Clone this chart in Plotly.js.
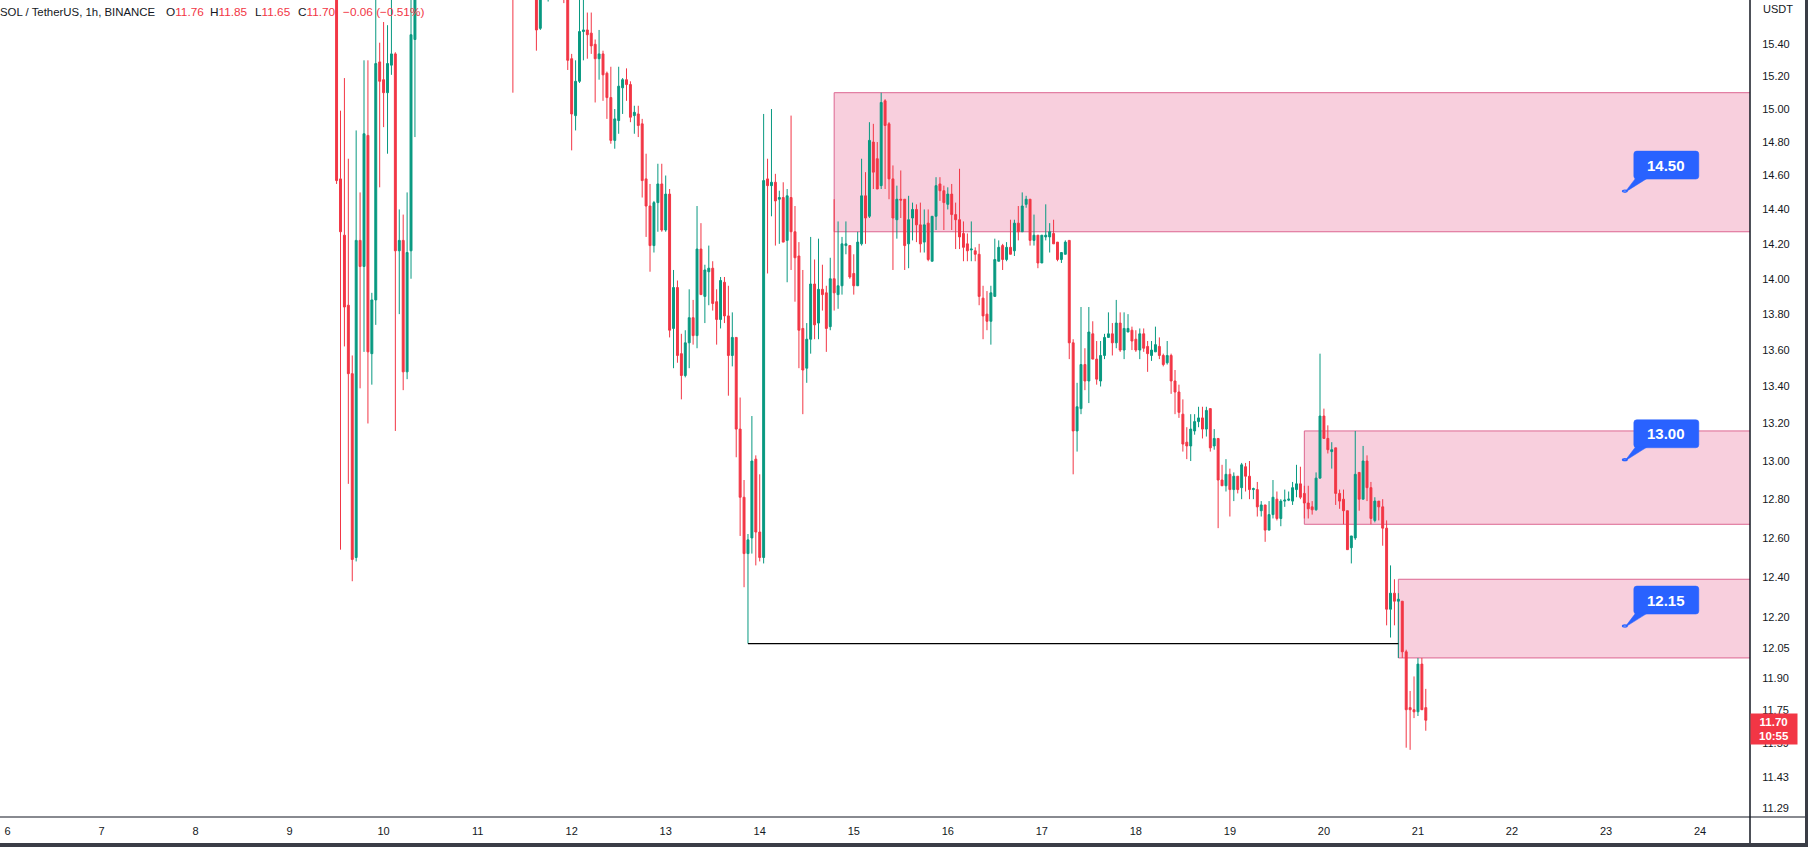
<!DOCTYPE html>
<html>
<head>
<meta charset="utf-8">
<script src="https://cdn.plot.ly/plotly-3.0.1.min.js"></script>
<style>
html,body{margin:0;padding:0;background:#fff;}
#chart{width:1808px;height:847px;}
</style>
</head>
<body>
<div id="chart"></div>
<script>
// ---- data: SOL/USDT 1h candles, first candle = 2022-11-09 12:00 (hour 60 after Nov 7 00:00)
const N = null;
const openP = [
16.10,14.58,14.25,13.85,13.47,12.50,14.22,14.07,14.84,13.58,
13.88,15.29,15.18,15.10,15.27,15.34,14.16,14.22,13.48,14.16,
15.43,
N,N,N,N,N,N,N,N,N,N,N,N,N,N,N,N,N,N,N,N,N,N,N,N,
16.05,
N,N,N,N,N,
15.85,15.50,N,15.70,N,N,N,
15.90,15.75,
15.31,14.96,15.17,15.48,15.49,15.47,15.40,15.31,15.34,15.22,
15.07,14.81,14.93,15.13,15.18,15.15,14.96,14.97,14.91,14.58,
14.42,14.19,14.44,14.55,14.28,14.49,13.72,13.95,13.58,13.46,
13.64,13.78,13.68,14.17,13.90,14.04,14.06,13.87,13.77,13.98,
13.79,13.57,13.67,13.17,12.81,12.52,12.60,13.01,12.63,12.50,
14.58,14.54,14.56,14.46,14.47,14.22,14.47,14.27,14.13,13.72,
13.50,13.66,13.97,13.75,13.94,13.92,13.73,14.00,13.91,13.96,
14.19,14.19,14.03,13.96,14.20,14.48,14.36,14.80,14.70,14.54,
15.05,14.91,14.58,14.34,14.46,14.46,14.20,14.35,14.40,14.31,
14.21,14.32,14.10,14.36,14.55,14.51,14.43,14.49,14.37,14.34,
14.26,14.20,14.165,14.16,14.14,13.89,13.80,13.76,13.90,14.10,
14.19,14.11,14.18,14.16,14.32,14.27,14.43,14.46,14.22,14.25,
14.09,14.24,14.24,14.26,14.21,14.11,14.14,14.22,13.64,13.16,
13.28,13.52,13.43,13.69,13.55,13.43,13.57,13.67,13.69,13.64,
13.75,13.60,13.70,13.71,13.66,13.60,13.69,13.62,13.57,13.59,
13.62,13.57,13.53,13.57,13.43,13.37,13.25,13.10,13.08,13.16,
13.21,13.23,13.17,13.28,13.08,13.12,12.90,12.87,12.93,12.85,
12.92,12.86,12.97,12.92,12.85,12.85,12.74,12.77,12.64,12.72,
12.80,12.70,12.79,12.795,12.79,12.85,12.88,12.83,12.78,12.76,
12.745,12.91,13.24,13.12,13.05,13.07,12.83,12.80,12.74,12.55,
12.60,12.94,12.80,13.00,12.86,12.69,12.79,12.76,12.65,12.24,
12.32,12.28,12.28,12.03,11.76,11.75,11.74,11.97,11.76
];
const highP = [
16.30,14.99,15.19,14.70,13.57,14.87,14.50,15.30,15.30,13.92,
15.80,15.41,15.54,15.52,15.80,15.35,14.40,14.37,14.50,15.80,
16.00,
N,N,N,N,N,N,N,N,N,N,N,N,N,N,N,N,N,N,N,N,N,N,N,N,
16.20,
N,N,N,N,N,
15.95,15.90,N,15.85,N,N,N,
15.95,15.80,
15.34,15.30,15.72,15.72,15.60,15.60,15.43,15.49,15.36,15.23,
15.26,15.00,15.26,15.19,15.25,15.17,15.02,15.02,14.94,14.73,
14.55,14.45,14.67,14.67,14.60,14.52,14.05,13.99,13.69,13.71,
13.94,13.88,14.42,14.32,14.08,14.19,14.10,13.94,14.01,14.01,
13.96,13.81,13.67,13.34,12.90,12.62,13.24,13.03,12.93,14.97,
14.70,15.00,14.61,14.51,14.56,14.52,14.96,14.42,14.21,14.05,
13.75,14.24,14.11,14.23,14.08,13.96,14.12,14.46,14.33,14.24,
14.33,14.19,14.14,14.27,14.70,14.62,14.92,14.91,14.80,15.10,
15.06,14.92,14.66,14.54,14.63,14.46,14.48,14.44,14.43,14.44,
14.40,14.40,14.36,14.59,14.59,14.54,14.53,14.55,14.44,14.64,
14.33,14.26,14.33,14.18,14.20,13.96,13.93,13.96,14.23,14.22,
14.20,14.21,14.34,14.34,14.42,14.50,14.48,14.46,14.37,14.25,
14.25,14.43,14.32,14.34,14.21,14.15,14.22,14.22,13.66,13.42,
13.84,13.61,13.84,13.76,13.65,13.65,13.69,13.81,13.75,13.88,
13.81,13.81,13.80,13.73,13.71,13.72,13.72,13.65,13.65,13.73,
13.67,13.58,13.65,13.58,13.49,13.41,13.33,13.18,13.25,13.25,
13.29,13.29,13.29,13.28,13.17,13.12,12.98,13.01,12.96,12.94,
12.92,12.99,12.99,13.00,12.86,12.89,12.79,12.77,12.79,12.90,
12.84,12.80,12.85,12.84,12.89,12.98,12.97,12.87,12.87,12.79,
12.94,13.58,13.28,13.19,13.10,13.07,12.85,12.85,12.74,12.61,
13.16,12.94,13.08,13.03,12.89,12.81,12.79,12.80,12.69,12.46,
12.39,12.32,12.28,12.04,11.84,11.91,12.00,12.00,11.85
];
const lowP = [
14.55,12.54,13.62,12.88,12.38,12.48,13.39,13.59,13.20,13.41,
13.74,14.53,14.89,14.73,15.21,13.16,13.80,13.38,13.44,14.00,
14.83,
N,N,N,N,N,N,N,N,N,N,N,N,N,N,N,N,N,N,N,N,N,N,N,N,
15.10,
N,N,N,N,N,
15.36,15.49,N,15.67,N,N,N,
15.66,15.24,
14.75,14.87,15.16,15.30,15.31,15.34,15.04,15.18,15.05,14.94,
14.79,14.76,14.85,14.97,15.05,14.92,14.85,14.83,14.47,14.24,
14.04,14.15,14.27,14.27,14.27,13.67,13.50,13.53,13.33,13.45,
13.50,13.63,13.61,13.91,13.75,13.85,13.82,13.63,13.72,13.75,
13.35,13.51,13.02,12.61,12.35,12.07,12.52,12.46,12.48,12.47,
14.03,14.36,14.19,14.20,14.21,13.98,14.05,13.87,13.50,13.25,
13.42,13.58,13.66,13.66,13.82,13.59,13.71,13.82,13.83,13.91,
14.14,14.00,13.91,13.96,14.19,14.20,14.35,14.52,14.52,14.52,
14.52,14.46,14.05,14.23,14.35,14.05,14.06,14.22,14.21,14.15,
14.15,14.10,14.10,14.28,14.45,14.28,14.40,14.28,14.17,14.17,
14.10,14.10,14.10,14.10,13.85,13.66,13.71,13.63,13.90,14.10,
14.05,14.10,14.14,14.13,14.22,14.27,14.41,14.19,14.19,14.06,
14.09,14.22,14.15,14.20,14.10,14.09,14.14,13.55,12.93,13.05,
13.25,13.38,13.31,13.55,13.41,13.40,13.55,13.67,13.57,13.61,
13.59,13.55,13.70,13.60,13.59,13.55,13.59,13.48,13.54,13.59,
13.55,13.51,13.52,13.36,13.25,13.23,13.05,13.01,13.00,13.14,
13.18,13.12,13.13,13.05,13.06,12.65,12.87,12.84,12.71,12.79,
12.83,12.80,12.84,12.80,12.80,12.71,12.71,12.58,12.64,12.70,
12.69,12.66,12.76,12.79,12.77,12.81,12.80,12.70,12.70,12.72,
12.74,12.91,13.12,13.04,12.96,12.77,12.75,12.67,12.54,12.47,
12.59,12.74,12.80,12.79,12.67,12.68,12.69,12.56,12.16,12.10,
12.16,12.00,12.00,11.57,11.56,11.71,11.72,11.75,11.65
];
const closeP = [
14.57,14.27,13.84,13.47,12.49,14.22,14.07,14.85,13.59,13.88,
15.28,15.17,15.10,15.28,15.34,14.16,14.22,13.48,14.15,15.46,
15.85,
N,N,N,N,N,N,N,N,N,N,N,N,N,N,N,N,N,N,N,N,N,N,N,N,
15.90,
N,N,N,N,N,
15.49,15.80,N,15.78,N,N,N,
15.75,15.30,
14.97,15.17,15.48,15.49,15.46,15.39,15.31,15.34,15.21,15.07,
14.81,14.94,15.14,15.18,15.15,14.95,14.98,14.90,14.57,14.42,
14.19,14.44,14.55,14.28,14.49,13.71,13.95,13.57,13.46,13.64,
13.78,13.68,14.17,13.91,14.05,14.06,13.86,13.77,13.99,13.79,
13.57,13.67,13.17,12.81,12.52,12.59,13.00,12.63,12.50,14.57,
14.54,14.56,14.45,14.47,14.21,14.48,14.27,14.12,13.71,13.49,
13.66,13.97,13.74,13.94,13.91,13.72,14.00,13.92,13.96,14.20,
14.20,14.01,13.96,14.21,14.48,14.35,14.81,14.62,14.52,15.04,
14.90,14.58,14.35,14.46,14.455,14.19,14.34,14.40,14.31,14.20,
14.31,14.11,14.36,14.54,14.51,14.44,14.49,14.37,14.34,14.24,
14.18,14.16,14.17,14.14,13.90,13.79,13.76,13.92,14.11,14.18,
14.11,14.18,14.14,14.32,14.27,14.42,14.46,14.22,14.25,14.09,
14.25,14.25,14.27,14.20,14.11,14.15,14.21,13.64,13.16,13.29,
13.52,13.43,13.70,13.55,13.44,13.57,13.67,13.69,13.64,13.75,
13.60,13.72,13.72,13.65,13.60,13.69,13.61,13.58,13.60,13.63,
13.57,13.52,13.57,13.43,13.37,13.26,13.09,13.08,13.17,13.21,
13.23,13.17,13.27,13.07,13.12,12.90,12.87,12.93,12.85,12.92,
12.85,12.98,12.92,12.85,12.855,12.76,12.77,12.64,12.72,12.81,
12.70,12.79,12.795,12.80,12.86,12.88,12.81,12.78,12.75,12.745,
12.91,13.24,13.12,13.06,13.06,12.83,12.79,12.74,12.54,12.61,
12.93,12.80,13.00,12.86,12.70,12.79,12.76,12.65,12.24,12.32,
12.28,12.29,12.03,11.75,11.75,11.74,11.97,11.75,11.70
];

// price-axis ticks (log scale) and day ticks
const priceTicks = [15.40,15.20,15.00,14.80,14.60,14.40,14.20,14.00,13.80,13.60,13.40,13.20,13.00,12.80,12.60,12.40,12.20,12.05,11.90,11.75,11.59,11.43,11.29];
const priceTickText = ['15.40','15.20','15.00','14.80','14.60','14.40','14.20','14.00','13.80','13.60','13.40','13.20','13.00','12.80','12.60','12.40','12.20','12.05','11.90','11.75','11.59','11.43','11.29'];
const dayTicks = ['2022-11-06','2022-11-07','2022-11-08','2022-11-09','2022-11-10','2022-11-11','2022-11-12','2022-11-13','2022-11-14','2022-11-15','2022-11-16','2022-11-17','2022-11-18','2022-11-19','2022-11-20','2022-11-21','2022-11-22','2022-11-23','2022-11-24'];
const dayTickText = ['6','7','8','9','10','11','12','13','14','15','16','17','18','19','20','21','22','23','24'];

// supply zones (drawn rectangles)
const zoneStart = ['2022-11-14 19:00','2022-11-19 19:00','2022-11-20 19:00'];
const zoneTop = [15.10, 13.16, 12.39];
const zoneBottom = [14.27, 12.67, 12.00];
// horizontal trend line
const lineStart = '2022-11-13 21:00', lineEnd = '2022-11-20 19:00', lineLevel = 12.07;
// callouts
const calloutLevels = [14.50, 13.00, 12.15];
const calloutText = ['14.50','13.00','12.15'];
const calloutTime = '2022-11-23 04:48';
const lastClose = 11.70, countdown = '10:55';

// ---- build x times
function fmt(ms){
  const d = new Date(ms), p = n => String(n).padStart(2,'0');
  return d.getUTCFullYear()+'-'+p(d.getUTCMonth()+1)+'-'+p(d.getUTCDate())+' '+p(d.getUTCHours())+':'+p(d.getUTCMinutes());
}
const t0 = Date.UTC(2022,10,9,12,0);
const times = openP.map((_, i) => fmt(t0 + i*3600000));

const UP = '#089981', DOWN = '#F23645', BLUE = '#2962FF';
const W = 1808, H = 847, ML = 0, MR = 58, MT = 0, MB = 30;
const PW = W-ML-MR, PH = H-MT-MB;
const px = v => v/PW;          // pixel x -> paper
const py = v => 1 - v/PH;      // pixel y (from top) -> paper

const traces = [{
  type:'candlestick', x:times, open:openP, high:highP, low:lowP, close:closeP,
  increasing:{line:{color:UP,width:1},fillcolor:UP},
  decreasing:{line:{color:DOWN,width:1},fillcolor:DOWN},
  whiskerwidth:0, hoverinfo:'skip', showlegend:false
}];

const shapes = [];
zoneStart.forEach((s,i)=>{
  shapes.push({type:'rect', xref:'x', yref:'y', x0:s, x1:'2022-11-26', y0:zoneBottom[i], y1:zoneTop[i],
    fillcolor:'#F8CFDD', line:{color:'#DC6690',width:1}, layer:'below'});
});
shapes.push({type:'line', xref:'x', yref:'y', x0:lineStart, x1:lineEnd, y0:lineLevel, y1:lineLevel, line:{color:'#000000',width:1.3}});
// callout bodies (rounded box + tail + anchor dot), sized in pixels around each anchor
const boxPath = 'M 12,13.3 L 71,13.3 Q 74,13.3 74,16.3 L 74,38.3 Q 74,41.3 71,41.3 L 12,41.3 Q 9,41.3 9,38.3 L 9,16.3 Q 9,13.3 12,13.3 Z';
const tailPath = 'M 0,0 L 11,14.5 L 23,14.5 Z';
calloutLevels.forEach(lv=>{
  [boxPath, tailPath].forEach(pth=>shapes.push({type:'path', xref:'x', yref:'y', xsizemode:'pixel', ysizemode:'pixel',
    xanchor:calloutTime, yanchor:lv, path:pth, fillcolor:BLUE, line:{color:BLUE,width:0.5}, layer:'above'}));
  shapes.push({type:'circle', xref:'x', yref:'y', xsizemode:'pixel', ysizemode:'pixel', xanchor:calloutTime, yanchor:lv,
    x0:-2.3, x1:2.3, y0:-2.3, y1:2.3, fillcolor:'#ffffff', line:{color:BLUE,width:1.4}, layer:'above'});
});
// axis frame lines
shapes.push({type:'line', xref:'paper', yref:'paper', x0:0, x1:px(1805), y0:0, y1:0, line:{color:'#131722',width:1.2}});
shapes.push({type:'line', xref:'paper', yref:'paper', x0:1, x1:1, y0:py(843), y1:1, line:{color:'#131722',width:1.5}});
// dark window frame bottom / right
shapes.push({type:'rect', xref:'paper', yref:'paper', x0:0, x1:px(1808), y0:py(847), y1:py(843), fillcolor:'#3a3d46', line:{width:0}});
shapes.push({type:'rect', xref:'paper', yref:'paper', x0:px(1805), x1:px(1808), y0:py(847), y1:1, fillcolor:'#3a3d46', line:{width:0}});

const FONT = 'Liberation Sans, Arial, sans-serif';
const annotations = [];
// header
const hdr = [
  [-1.5,'SOL / TetherUS, 1h, BINANCE',11.4],
  [165,'O<span style="color:#F23645">11.76</span>',11.8],
  [209,'H<span style="color:#F23645">11.85</span>',11.8],
  [254,'L<span style="color:#F23645">11.65</span>',11.8],
  [297,'C<span style="color:#F23645">11.70</span>',11.8],
  [342,'<span style="color:#F23645">−0.06 (−0.51%)</span>',11.8]
];
hdr.forEach(h=>annotations.push({xref:'paper',yref:'paper',x:px(h[0]),y:py(12.5),xanchor:'left',yanchor:'middle',
  text:h[1],showarrow:false,borderpad:0,font:{family:FONT,size:h[2],color:'#131722'}}));
// USDT
annotations.push({xref:'paper',yref:'paper',x:px(1761),y:py(9),xanchor:'left',yanchor:'middle',text:'USDT',showarrow:false,
  font:{family:FONT,size:11,color:'#131722'}});
// callout texts
calloutLevels.forEach((lv,i)=>annotations.push({xref:'x',yref:'y',x:calloutTime,y:Math.log10(lv),
  xanchor:'center',yanchor:'middle',xshift:41.5,yshift:27.3,showarrow:false,
  text:'<b>'+calloutText[i]+'</b>',font:{family:FONT,size:15,color:'#ffffff'}}));
// last price label
annotations.push({xref:'paper',yref:'y',x:1,y:Math.log10(lastClose),xanchor:'left',yanchor:'top',yshift:7.5,
  text:'<b>'+lastClose.toFixed(2)+'</b><br><b>'+countdown+'</b>',showarrow:false,bgcolor:'#F23645',
  borderpad:2,width:42,height:26,align:'center',font:{family:FONT,size:11.5,color:'#ffffff'}});

const layout = {
  width:W, height:H, margin:{l:ML,r:MR,t:MT,b:MB,autoexpand:false},
  paper_bgcolor:'#ffffff', plot_bgcolor:'#ffffff', showlegend:false, hovermode:false, dragmode:false,
  xaxis:{type:'date', range:['2022-11-05 22:05:37','2022-11-24 12:45'], rangeslider:{visible:false},
    tickmode:'array', tickvals:dayTicks, ticktext:dayTickText, showgrid:false, zeroline:false, showline:false,
    ticks:'outside', ticklen:4, tickcolor:'rgba(0,0,0,0)', tickfont:{family:FONT,size:11,color:'#131722'}, fixedrange:true},
  yaxis:{type:'log', side:'right', range:[1.051097,1.195341], tickmode:'array', tickvals:priceTicks, ticktext:priceTickText,
    showgrid:false, zeroline:false, showline:false, ticks:'outside', ticklen:9, tickcolor:'rgba(0,0,0,0)',
    tickfont:{family:FONT,size:11,color:'#131722'}, fixedrange:true},
  shapes:shapes, annotations:annotations
};
Plotly.newPlot('chart', traces, layout, {displayModeBar:false, staticPlot:true});
</script>
</body>
</html>
